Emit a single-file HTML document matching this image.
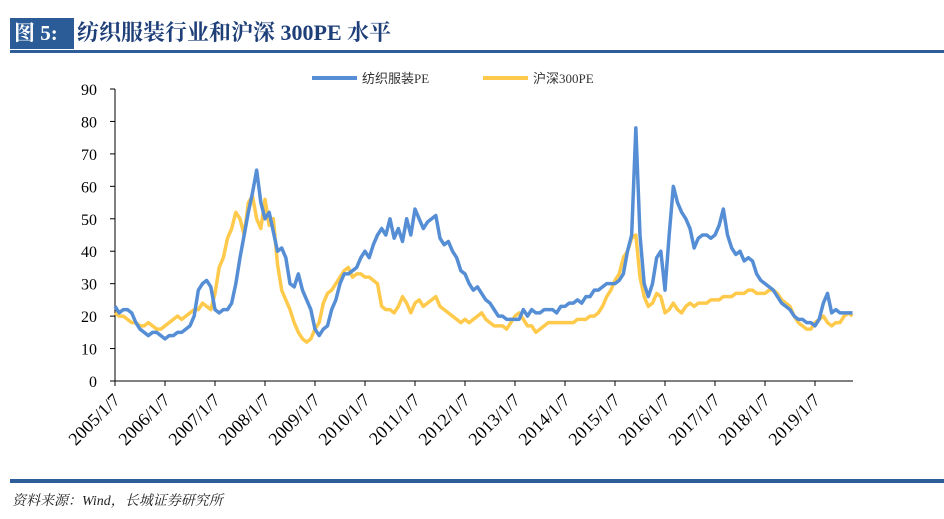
<!DOCTYPE html>
<html><head><meta charset="utf-8">
<style>
body{margin:0;width:944px;height:519px;background:#fff;overflow:hidden;position:relative;font-family:"Liberation Serif","Noto Serif CJK SC",serif;}
.abs{position:absolute;}
</style></head><body>
<div class="abs" style="left:10px;top:18px;width:64px;height:31px;background:#2b5c98;color:#fff;font-weight:bold;font-size:21px;line-height:31px;padding-left:4px;box-sizing:border-box;">图 5:</div>
<div class="abs" style="left:77px;top:17px;font-size:22px;font-weight:bold;color:#1f3f78;line-height:32px;">纺织服装行业和沪深 300PE 水平</div>
<div class="abs" style="left:10px;top:50px;width:934px;height:3px;background:#2e5e99;"></div>
<div class="abs" style="left:10px;top:479px;width:934px;height:4px;background:#2e5e99;"></div>
<div class="abs" style="left:12px;top:490px;font-size:14px;font-style:italic;color:#222;">资料来源：Wind，长城证券研究所</div>
<svg class="abs" style="left:0;top:0" width="944" height="519" id="chart"></svg>
<script>
const years=["2005/1/7","2006/1/7","2007/1/7","2008/1/7","2009/1/7","2010/1/7","2011/1/7","2012/1/7","2013/1/7","2014/1/7","2015/1/7","2016/1/7","2017/1/7","2018/1/7","2019/1/7"];
const yTicks=[0,10,20,30,40,50,60,70,80,90];
const seriesNames=["纺织服装PE","沪深300PE"];
const textilePE=[
23,21,22,22,21,18,16,15,14,15,15,14,
13,14,14,15,15,16,17,20,28,30,31,29,
22,21,22,22,24,30,38,45,52,58,65,55,
50,52,46,40,41,38,30,29,33,28,25,22,
16,14,16,17,22,25,30,33,33,34,35,38,
40,38,42,45,47,45,50,44,47,43,50,45,
53,50,47,49,50,51,44,42,43,40,38,34,
33,30,28,29,27,25,24,22,20,20,19,19,
19,19,22,20,22,21,21,22,22,22,21,23,
23,24,24,25,24,26,26,28,28,29,30,30,
30,31,33,40,45,78,45,30,26,30,38,40,
28,45,60,55,52,50,47,41,44,45,45,44,
45,48,53,45,41,39,40,37,38,37,33,31,
30,29,28,26,24,23,22,20,19,19,18,18,
17,19,24,27,21,22,21,21,21,21];
const hs300PE=[
21,20,20,19,18,18,17,17,18,17,16,16,
17,18,19,20,19,20,21,22,22,24,23,22,
27,35,38,44,47,52,50,45,55,57,50,47,
56,48,50,36,28,25,22,18,15,13,12,13,
16,18,24,27,28,30,32,34,35,32,33,33,
32,32,31,30,23,22,22,21,23,26,24,21,
24,25,23,24,25,26,23,22,21,20,19,18,
19,18,19,20,21,19,18,17,17,17,16,18,
20,21,19,17,17,15,16,17,18,18,18,18,
18,18,18,19,19,19,20,20,21,23,26,28,
31,33,38,40,44,45,32,26,23,24,27,26,
21,22,24,22,21,23,24,23,24,24,24,25,
25,25,26,26,26,27,27,27,28,28,27,27,
27,28,28,27,25,24,23,20,18,17,16,16,
18,19,20,18,17,18,18,20,21,20];
const NS="http://www.w3.org/2000/svg";
const svg=document.getElementById('chart');
const X0=115,YW=50,Y0=381,YS=292/90;
function xs(t){return X0+t*YW;}
function ys(v){return Y0-v*YS;}
function mk(tag,attrs,parent){const e=document.createElementNS(NS,tag);for(const k in attrs)e.setAttribute(k,attrs[k]);(parent||svg).appendChild(e);return e;}
let ax=mk('line',{x1:X0,y1:ys(90),x2:X0,y2:Y0,stroke:'#000','stroke-width':1});


let bx=mk('line',{x1:X0,y1:Y0,x2:853,y2:Y0,stroke:'#000','stroke-width':1});


yTicks.forEach(v=>{
  const y=ys(v);
  mk('line',{x1:X0-5,y1:y,x2:X0,y2:y,stroke:'#000'});
  const t=mk('text',{x:97,y:y+6,'text-anchor':'end','font-size':16,'font-family':'Liberation Serif, serif',fill:'#000'});
  t.textContent=v;
  
  
});
years.forEach((s,i)=>{
  const x=xs(i);
  mk('line',{x1:x,y1:Y0,x2:x,y2:Y0+5,stroke:'#000'});
  const ax2=x+6, ay=Y0+20;
  const t=mk('text',{x:ax2,y:ay,'text-anchor':'end','font-size':18,'font-family':'Liberation Serif, serif',fill:'#000',transform:`rotate(-45 ${ax2} ${ay})`});
  t.textContent=s;
  
  
});
function line(data,color,name){
  const pts=data.map((v,i)=>xs(i/12)+','+ys(v)).join(' ');
  const p=mk('polyline',{points:pts,fill:'none',stroke:color,'stroke-width':3.5,'stroke-linejoin':'round'});
  
  
}
line(hs300PE,'#ffca4c','hs300-pe-line');
line(textilePE,'#558ed5','textile-pe-line');
[[312,'#558ed5',0],[483,'#ffca4c',1]].forEach(([x,c,i])=>{
  mk('line',{x1:x,y1:78,x2:x+45,y2:78,stroke:c,'stroke-width':4});
  const t=mk('text',{x:x+50,y:83,'font-size':13,'font-family':'Liberation Serif, Noto Sans CJK SC, serif',fill:'#333'});
  t.textContent=seriesNames[i];
  
  
});
</script>
</body></html>
